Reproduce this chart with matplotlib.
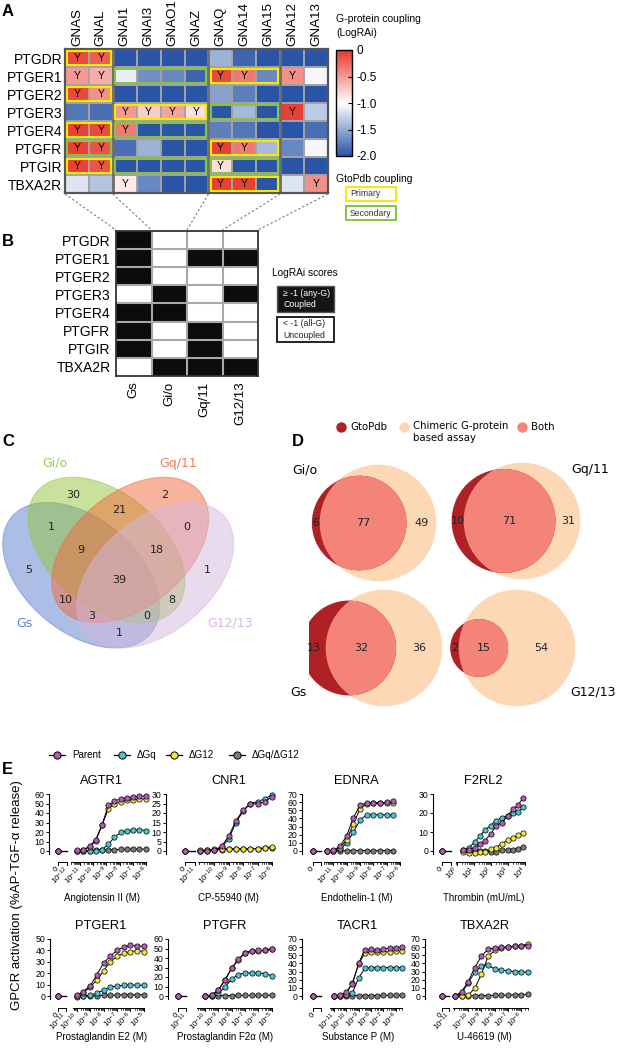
import numpy as np
import matplotlib
matplotlib.use("Agg")
import matplotlib.pyplot as plt
from matplotlib.colors import LinearSegmentedColormap, ListedColormap
from matplotlib.patches import Rectangle, Ellipse, Circle

plt.rcParams["font.family"] = ["Liberation Sans", "DejaVu Sans"]
plt.rcParams["mathtext.default"] = "regular"

W, H = 618, 1050

# ---------------- panel A / B data ----------------
receptors = ["PTGDR", "PTGER1", "PTGER2", "PTGER3", "PTGER4", "PTGFR", "PTGIR", "TBXA2R"]
gproteins = ["GNAS", "GNAL", "GNAI1", "GNAI3", "GNAO1", "GNAZ", "GNAQ", "GNA14", "GNA15", "GNA12", "GNA13"]
lograi = [
    # GNAS  GNAL  GNAI1  GNAI3  GNAO1  GNAZ   GNAQ   GNA14  GNA15  GNA12  GNA13
    [-0.10, -0.20, -2.00, -2.00, -2.00, -2.00, -1.45, -1.90, -2.00, -2.00, -2.00],  # PTGDR
    [-0.50, -0.60, -1.10, -1.65, -1.70, -1.90, -0.10, -0.35, -1.70, -0.45, -1.05],  # PTGER1
    [-0.10, -0.45, -2.00, -2.00, -2.00, -2.00, -1.55, -1.75, -2.00, -2.00, -2.00],  # PTGER2
    [-1.80, -1.85, -0.50, -0.75, -0.55, -0.85, -2.00, -1.40, -2.00, -0.05, -1.30],  # PTGER3
    [-0.05, -0.10, -0.35, -2.00, -2.00, -2.00, -1.75, -1.80, -2.00, -2.00, -1.85],  # PTGER4
    [-0.05, -0.15, -1.85, -1.45, -2.00, -2.00, -0.05, -0.35, -1.40, -1.70, -1.05],  # PTGFR
    [-0.05, -0.15, -2.00, -2.00, -2.00, -2.00, -0.85, -2.00, -2.00, -2.00, -2.00],  # PTGIR
    [-1.15, -1.35, -0.90, -1.70, -2.00, -2.00, -0.05, -0.05, -2.00, -1.15, -0.45],  # TBXA2R
]
families = ["Gs", "Gi/o", "Gq/11", "G12/13"]
family_cols = [(0, 1), (2, 5), (6, 8), (9, 10)]
# (receptor index, family index)
gto_primary = [(0, 0), (1, 2), (2, 0), (3, 1), (4, 0), (5, 2), (6, 0), (7, 2)]
gto_secondary = [(1, 1), (3, 2), (4, 1), (5, 0), (6, 1), (6, 2)]

# ---------------- panel C data ----------------
venn_names = ["Gs", "Gi/o", "Gq/11", "G12/13"]
venn_regions = ["1000", "0100", "0010", "0001", "1100", "0110", "0011", "1010",
                "0101", "1001", "1110", "0111", "1011", "1101", "1111"]
venn_counts = [5, 30, 2, 1, 1, 21, 0, 10, 8, 1, 9, 18, 3, 0, 39]

# ---------------- panel D data ----------------
d_names = ["Gi/o", "Gq/11", "Gs", "G12/13"]
d_gto_only = [6, 10, 13, 2]
d_both = [77, 71, 32, 15]
d_assay_only = [49, 31, 36, 54]

# ---------------- panel E data ----------------
e_names = ["AGTR1", "CNR1", "EDNRA", "F2RL2", "PTGER1", "PTGFR", "TACR1", "TBXA2R"]
e_ligands = ["Angiotensin II (M)", "CP-55940 (M)", "Endothelin-1 (M)", "Thrombin (mU/mL)",
             "Prostaglandin E2 (M)", "Prostaglandin F2α (M)", "Substance P (M)", "U-46619 (M)"]
e_ymax = [60, 30, 70, 30, 50, 60, 70, 70]
e_ystep = [10, 5, 10, 10, 10, 10, 10, 10]
e_logdose = [
    [-11.25, -10.77, -10.30, -9.82, -9.34, -8.86, -8.39, -7.91, -7.43, -6.95, -6.48, -6.0],
    [-11.0, -10.5, -10.0, -9.5, -9.0, -8.5, -8.0, -7.5, -7.0, -6.5, -6.0],
    [-11.5, -11.0, -10.5, -10.0, -9.5, -9.0, -8.5, -8.0, -7.5, -7.0, -6.5],
    [0.4, 0.7, 1.05, 1.35, 1.65, 2.0, 2.3, 2.65, 3.0, 3.3, 3.6, 3.9],
    [-10.0, -9.5, -9.0, -8.5, -8.0, -7.5, -7.0, -6.5, -6.0, -5.5, -5.0],
    [-10.0, -9.5, -9.0, -8.5, -8.0, -7.5, -7.0, -6.5, -6.0, -5.5, -5.0],
    [-11.0, -10.5, -10.0, -9.5, -9.0, -8.5, -8.0, -7.5, -7.0, -6.5, -6.0, -5.5],
    [-11.0, -10.5, -10.0, -9.5, -9.0, -8.5, -8.0, -7.5, -7.0, -6.5, -6.0, -5.5],
]
e_parent = [
    [0.7, 1.4, 4.9, 11.9, 27.7, 48.1, 52.3, 55.1, 56.1, 56.8, 57.5, 57.9],
    [0.0, 0.0, 0.5, 2.5, 7.8, 16.0, 21.5, 25.0, 24.7, 26.0, 28.5],
    [0.0, 0.8, 6.0, 18.8, 41.0, 56.0, 59.5, 59.5, 59.5, 60.0, 61.0],
    [0.4, 0.7, 1.8, 3.6, 5.4, 9.0, 13.0, 15.0, 18.6, 22.0, 24.0, 28.0],
    [0.6, 3.8, 8.8, 18.5, 28.8, 35.0, 40.0, 43.0, 44.4, 44.0, 43.5],
    [0.0, 1.0, 6.4, 17.0, 29.6, 38.6, 45.7, 47.5, 48.0, 48.0, 50.0],
    [0.0, 0.8, 5.0, 15.0, 40.0, 57.0, 57.6, 56.0, 58.0, 58.8, 59.0, 60.0],
    [0.0, 5.3, 17.7, 35.0, 49.0, 57.6, 59.0, 60.0, 60.0, 61.0, 61.0, 62.0],
]
e_dgq = [
    [0.0, 0.0, 0.2, 0.5, 1.5, 7.0, 14.5, 19.5, 21.5, 22.0, 22.5, 21.5],
    [0.0, 0.0, 0.3, 2.0, 6.5, 15.0, 21.0, 25.0, 26.0, 27.5, 29.5],
    [0.0, 0.3, 2.0, 10.0, 23.0, 38.0, 44.5, 44.5, 44.5, 44.5, 44.0],
    [0.5, 1.8, 4.5, 7.7, 11.0, 13.4, 16.0, 17.5, 18.6, 20.0, 20.5, 23.0],
    [-0.5, 0.0, 0.9, 2.3, 5.3, 8.0, 8.8, 9.4, 9.7, 9.5, 9.3],
    [-0.5, 0.0, 2.8, 9.3, 17.9, 22.5, 24.3, 24.3, 24.0, 23.5, 21.4],
    [0.0, 0.3, 1.5, 4.0, 22.0, 34.0, 35.0, 35.0, 35.0, 35.0, 35.0, 35.0],
    [0.0, 3.0, 16.5, 29.0, 37.0, 38.0, 33.0, 32.0, 31.0, 30.0, 30.0, 29.0],
]
e_dg12 = [
    [0.5, 1.0, 4.0, 11.0, 27.0, 44.5, 49.5, 52.0, 53.5, 54.0, 54.5, 55.0],
    [0.3, 0.5, 0.8, 1.0, 1.2, 1.2, 1.0, 1.2, 1.3, 1.6, 2.2],
    [0.0, 0.5, 4.0, 14.0, 33.0, 52.0, 58.0, 58.5, 58.5, 59.0, 59.0],
    [-0.4, -0.9, -0.9, -0.5, -0.4, 0.9, 1.8, 3.9, 5.7, 7.0, 8.4, 9.3],
    [0.0, 3.0, 7.6, 14.0, 22.0, 30.0, 34.7, 37.6, 39.0, 39.7, 39.0],
    [0.0, 0.8, 6.0, 16.5, 29.0, 38.0, 45.0, 47.0, 47.5, 48.0, 49.0],
    [0.0, 0.5, 3.0, 16.0, 39.0, 53.0, 54.0, 53.5, 54.0, 54.5, 55.0, 55.0],
    [0.0, 0.0, 1.0, 9.5, 27.0, 49.0, 56.0, 59.0, 60.0, 61.0, 62.0, 64.0],
]
e_dgqg12 = [
    [0.5, 0.5, 0.5, 1.0, 1.2, 1.5, 1.5, 1.6, 1.8, 2.0, 2.0, 2.0],
    [0.2, 0.3, 0.5, 0.7, 0.8, 0.9, 1.0, 1.1, 1.2, 1.4, 1.8],
    [0.3, 0.3, 0.4, 0.4, 0.5, 0.5, 0.5, 0.5, 0.6, 0.6, 0.6],
    [0.0, 0.0, 0.0, 0.0, -0.2, -0.3, -0.3, 0.4, 0.5, 0.7, 1.2, 2.1],
    [0.0, 0.0, 0.0, 0.3, 0.5, 0.7, 0.9, 1.0, 1.0, 1.0, 1.2],
    [0.3, 0.3, 0.4, 0.5, 0.5, 0.6, 0.6, 0.7, 0.8, 0.9, 1.0],
    [0.3, 0.3, 0.4, 0.5, 0.5, 0.6, 0.6, 0.6, 0.7, 0.7, 0.8, 0.9],
    [0.2, 0.3, 0.3, 0.4, 0.5, 0.6, 0.8, 1.0, 1.2, 1.5, 1.8, 2.0],
]
series_labels = ["Parent", "ΔGq", "ΔG12", "ΔGq/ΔG12"]
series_colors = ["#b55cb9", "#4ec5d1", "#f2ea3a", "#7c7c7c"]

# axis layout for panel E (pixels and log-dose units)
e_left = [49, 166, 302, 433, 50, 168, 302, 425]
e_right = [150, 276, 403, 528, 148, 275, 404, 532]
e_row = [0, 0, 0, 0, 1, 1, 1, 1]
e_xlim = [(-13.4, -5.67), (-13.36, -5.72), (-13.36, -5.77), (-1.39, 4.19),
          (-11.97, -4.7), (-12.77, -4.75), (-13.58, -5.33), (-13.25, -5.2)]
e_zero = [-12.7, -12.04, -12.53, -0.86, -11.36, -12.0, -12.65, -12.0]
e_seg1_end = [-12.0, -11.35, -11.95, -0.35, -10.8, -11.4, -12.05, -11.45]
e_seg1_label = ["$10^{-12}$", "$10^{-11}$", "", "", "$10^{-11}$", "$10^{-11}$", "", "$10^{-11}$"]
e_seg2 = [(-11.7, -6), (-11.15, -6), (-11.7, -6), (-0.05, 4), (-10.3, -5), (-10.6, -5),
          (-11.3, -5.5), (-11.15, -5.5)]
e_majors = [range(-11, -5), range(-10, -5), range(-11, -5), range(0, 5), range(-10, -4),
            range(-10, -4), range(-11, -5), range(-10, -5)]


def frect(l, t, r, b):
    return [l / W, 1 - b / H, (r - l) / W, (b - t) / H]


fig = plt.figure(figsize=(W / 100, H / 100), dpi=100)
ov = fig.add_axes([0, 0, 1, 1], zorder=20)
ov.set_xlim(0, W)
ov.set_ylim(H, 0)
ov.axis("off")

# ================= panel A =================
cmap = LinearSegmentedColormap.from_list("lograi", ["#2a55a6", "#ffffff", "#e8372b"])
A_L, A_T, A_R, A_B = 65, 49, 328, 193
axA = fig.add_axes(frect(A_L, A_T, A_R, A_B))
vals = np.array(lograi)
nr, nc = vals.shape
im = axA.imshow(vals, cmap=cmap, vmin=-2, vmax=0, aspect="auto", interpolation="nearest")
for k in range(1, nr):
    axA.axhline(k - 0.5, color="#a3a3a3", lw=1.4)
for k in range(1, nc):
    axA.axvline(k - 0.5, color="#a3a3a3", lw=1.4)
for c0, c1 in family_cols[1:]:
    axA.axvline(c0 - 0.5, color="#6e6e6e", lw=2.0)
for s in axA.spines.values():
    s.set_color("#555555")
    s.set_linewidth(1.6)
axA.xaxis.tick_top()
axA.set_xticks(range(nc), gproteins, rotation=90, fontsize=9.6)
axA.set_yticks(range(nr), receptors, fontsize=10)
axA.tick_params(length=0, pad=2)
for i in range(nr):
    for j in range(nc):
        if vals[i, j] > -1:
            axA.text(j, i, "Y", ha="center", va="center", fontsize=7.5)


def gto_box(r, fam, color):
    c0, c1 = family_cols[fam]
    axA.add_patch(Rectangle((c0 - 0.5 + 0.09, r - 0.5 + 0.12), c1 - c0 + 1 - 0.18, 0.76,
                            fill=False, ec=color, lw=1.5, zorder=5))


for r, f in gto_primary:
    gto_box(r, f, "#f3ec00")
for r, f in gto_secondary:
    gto_box(r, f, "#86c440")

cax = fig.add_axes(frect(336, 50, 352, 156))
cb = fig.colorbar(im, cax=cax, ticks=[0, -0.5, -1, -1.5, -2])
cb.ax.set_yticklabels(["0", "-0.5", "-1.0", "-1.5", "-2.0"])
cb.ax.tick_params(labelsize=8.5, length=3, width=0.8, direction="in", pad=3)
cb.outline.set_linewidth(1.0)
ov.text(336, 14, "G-protein coupling\n(LogRAi)", fontsize=7.5, va="top", ha="left", linespacing=1.5)
ov.text(336, 179, "GtoPdb coupling", fontsize=7.5, va="center", ha="left")
ov.add_patch(Rectangle((346, 187), 50, 14, fill=False, ec="#f3ec00", lw=1.4))
ov.text(350, 194, "Primary", fontsize=6.2, va="center", ha="left", color="#333333")
ov.add_patch(Rectangle((346, 206), 50, 14, fill=False, ec="#86c440", lw=1.4))
ov.text(350, 213, "Secondary", fontsize=6.2, va="center", ha="left", color="#333333")

# ================= panel B =================
B_L, B_T, B_R, B_B = 116, 231, 258, 376
axB = fig.add_axes(frect(B_L, B_T, B_R, B_B))
coupled = np.array([[float((vals[i, c0:c1 + 1] > -1).any()) for c0, c1 in family_cols]
                    for i in range(nr)])
axB.imshow(coupled, cmap=ListedColormap(["white", "#0b0b0b"]), vmin=0, vmax=1,
           aspect="auto", interpolation="nearest")
for k in range(1, nr):
    axB.axhline(k - 0.5, color="#a8a8a8", lw=1.5)
for k in range(1, len(families)):
    axB.axvline(k - 0.5, color="#a8a8a8", lw=1.5)
for s in axB.spines.values():
    s.set_color("#333333")
    s.set_linewidth(1.3)
axB.set_xticks(range(len(families)), families, rotation=90, fontsize=9.5)
axB.set_yticks(range(nr), receptors, fontsize=10)
axB.tick_params(length=0, pad=4)

ov.text(272, 273, "LogRAi scores", fontsize=7.3, va="center", ha="left")
ov.add_patch(Rectangle((277, 286), 57, 26, fc="#151515", ec="#555555", lw=1.0))
ov.text(283, 299, "≥ -1 (any-G)\nCoupled", fontsize=6.3, va="center", ha="left",
        color="white", linespacing=1.3)
ov.add_patch(Rectangle((277, 317), 57, 25, fc="white", ec="#222222", lw=1.4))
ov.text(283, 329.5, "< -1 (all-G)\nUncoupled", fontsize=6.3, va="center", ha="left",
        color="#222222", linespacing=1.3)

# dotted lines linking family groups of A to columns of B
cw = (A_R - A_L) / nc
a_edges = [A_L + c0 * cw for c0, _ in family_cols] + [A_R]
b_edges = [B_L + k * (B_R - B_L) / len(families) for k in range(len(families) + 1)]
for xa, xb in zip(a_edges, b_edges):
    ov.plot([xa, xb], [A_B + 1, B_T - 1], ls=(0, (2, 2)), color="#7a7a7a", lw=0.8)

# ================= panel C =================
axC = fig.add_axes(frect(-7, 424, 245, 676))
axC.set_xlim(0, 1)
axC.set_ylim(0, 1)
axC.axis("off")
venn_fill = ["#5a7fcf", "#94c43a", "#f2693b", "#d5b6dc"]
venn_text = ["#5b80d0", "#9acb4c", "#f27b55", "#d8b6de"]
ell = [(0.350, 0.400, 140), (0.450, 0.500, 140), (0.544, 0.500, 40), (0.644, 0.400, 40)]
for (ex, ey, ang), col in zip(ell, venn_fill):
    axC.add_patch(Ellipse((ex, ey), 0.72, 0.45, angle=ang, fc=col, ec=col, lw=0.8, alpha=0.5))
region_xy = {"0001": (0.85, 0.42), "0010": (0.68, 0.72), "0011": (0.77, 0.59),
             "0100": (0.32, 0.72), "0101": (0.71, 0.30), "0110": (0.50, 0.66),
             "0111": (0.65, 0.50), "1000": (0.14, 0.42), "1001": (0.50, 0.17),
             "1010": (0.29, 0.30), "1011": (0.39, 0.24), "1100": (0.23, 0.59),
             "1101": (0.61, 0.24), "1110": (0.35, 0.50), "1111": (0.50, 0.38)}
for reg, cnt in zip(venn_regions, venn_counts):
    tx, ty = region_xy[reg]
    axC.text(tx, ty, str(cnt), ha="center", va="center", fontsize=8,
             family="DejaVu Sans", color="#222222")
name_xy = [(0.123, 0.21), (0.246, 0.845), (0.734, 0.845), (0.94, 0.21)]
for nm, (tx, ty), col in zip(venn_names, name_xy, venn_text):
    axC.text(tx, ty, nm, ha="center", va="center", fontsize=9, family="DejaVu Sans", color=col)

# ================= panel D =================
c_gto, c_assay, c_both = "#b02126", "#fdd8b6", "#f4837a"


def lens_area(r1, r2, d):
    if d >= r1 + r2:
        return 0.0
    if d <= abs(r1 - r2):
        return np.pi * min(r1, r2) ** 2
    a1 = r1 ** 2 * np.arccos((d * d + r1 * r1 - r2 * r2) / (2 * d * r1))
    a2 = r2 ** 2 * np.arccos((d * d + r2 * r2 - r1 * r1) / (2 * d * r2))
    a3 = 0.5 * np.sqrt((-d + r1 + r2) * (d + r1 - r2) * (d - r1 + r2) * (d + r1 + r2))
    return a1 + a2 - a3


def solve_dist(r1, r2, target):
    lo, hi = abs(r1 - r2), r1 + r2
    for _ in range(60):
        mid = 0.5 * (lo + hi)
        if lens_area(r1, r2, mid) > target:
            lo = mid
        else:
            hi = mid
    return 0.5 * (lo + hi)


d_centers = [(378, 523), (522, 521), (384, 648), (517, 648)]
d_label_xy = [(292, 470), (571, 470), (290, 692), (570, 692)]
big_r_px = 58.3
for k in range(4):
    g, b, a = d_gto_only[k], d_both[k], d_assay_only[k]
    r1 = np.sqrt((g + b) / np.pi)
    r2 = np.sqrt((a + b) / np.pi)
    dist = solve_dist(r1, r2, b)
    s = big_r_px / r2
    cx, cy = d_centers[k]
    half = 75
    axd = fig.add_axes(frect(cx - half, cy - half, cx + half, cy + half))
    axd.set_xlim(-half / s, half / s)
    axd.set_ylim(-half / s, half / s)
    axd.axis("off")
    light = Circle((0, 0), r2, fc=c_assay, ec="none")
    axd.add_patch(light)
    axd.add_patch(Circle((-dist, 0), r1, fc=c_gto, ec="none"))
    lens = Circle((-dist, 0), r1, fc=c_both, ec="none")
    axd.add_patch(lens)
    lens.set_clip_path(light)
    xs = [((-dist - r1) + (-r2)) / 2, ((-r2) + (-dist + r1)) / 2, ((-dist + r1) + r2) / 2]
    for xv, cnt in zip(xs, [g, b, a]):
        axd.text(xv, 0, str(cnt), ha="center", va="center", fontsize=8,
                 family="DejaVu Sans", color="#222222")
    lx, ly = d_label_xy[k]
    ov.text(lx, ly, d_names[k], ha="left", va="center", fontsize=9, family="DejaVu Sans")

for (lx, txt), col in zip([(341, "GtoPdb"), (404, "Chimeric G-protein\nbased assay"), (522, "Both")],
                          [c_gto, c_assay, c_both]):
    ov.plot(lx, 427, "o", ms=7.5, mfc=col, mec="none")
    ov.text(lx + 9, 427, txt, ha="left", va="top" if "\n" in txt else "center",
            fontsize=7.3, family="DejaVu Sans", linespacing=1.3)
ov.texts[-2].set_y(421)

# ================= panel E =================
row_top = [794, 939]
row_zero = [851, 996]
row_bot = [862, 1008]
row_xlab = [898, 1037]
tick_px = 3.0

for k in range(8):
    rw = e_row[k]
    top, zero, bot = row_top[rw], row_zero[rw], row_bot[rw]
    ax = fig.add_axes(frect(e_left[k], top, e_right[k], bot))
    ax.patch.set_alpha(0)
    ymax = e_ymax[k]
    ax.set_xlim(*e_xlim[k])
    ax.set_ylim(-ymax * (bot - zero) / (zero - top), ymax)
    for sp in ["top", "right", "bottom"]:
        ax.spines[sp].set_visible(False)
    ax.spines["left"].set_bounds(-0.06 * ymax, ymax)
    ax.spines["left"].set_linewidth(0.8)
    ax.set_yticks(np.arange(0, ymax + 1, e_ystep[k]))
    ax.tick_params(axis="y", length=2.5, width=0.7, labelsize=6.3, pad=1)

    x0 = e_zero[k]
    doses = e_logdose[k]
    order = [(e_dgqg12[k], 3), (e_dgq[k], 1), (e_dg12[k], 2), (e_parent[k], 0)]
    for z, (yv, ci) in enumerate(order):
        ax.plot(doses, yv, "-", color="black", lw=0.7, zorder=3 + z)
        ax.plot(doses, yv, "o", ms=3.8, mfc=series_colors[ci], mec="black", mew=0.5,
                zorder=3 + z, clip_on=False)
        ax.plot(x0, 0, "o", ms=3.8, mfc=series_colors[ci], mec="black", mew=0.5,
                zorder=3 + z, clip_on=False)
    ax.plot([x0, e_seg1_end[k]], [0, 0], color="black", lw=1.0, zorder=2)

    # broken x axis drawn as two segments
    tr = ax.get_xaxis_transform()
    tl = tick_px / (bot - top)
    s1 = (x0, e_seg1_end[k])
    a2, b2 = e_seg2[k]
    ax.plot(s1, [0, 0], transform=tr, color="black", lw=0.7, clip_on=False)
    ax.plot([a2, b2], [0, 0], transform=tr, color="black", lw=0.7, clip_on=False)
    for xv in s1:
        ax.plot([xv, xv], [0, -tl], transform=tr, color="black", lw=0.7, clip_on=False)
    for m in e_majors[k]:
        ax.plot([m, m], [0, -tl], transform=tr, color="black", lw=0.7, clip_on=False)
    for dec in range(int(np.floor(a2)), int(np.ceil(b2)) + 1):
        for sub in range(2, 10):
            pm = dec + np.log10(sub)
            if a2 <= pm <= b2:
                ax.plot([pm, pm], [0, -tl * 0.55], transform=tr, color="black", lw=0.5,
                        clip_on=False)
    pos = [x0]
    labs = ["0"]
    if e_seg1_label[k]:
        pos.append(e_seg1_end[k])
        labs.append(e_seg1_label[k])
    pos += list(e_majors[k])
    labs += ["$10^{%d}$" % m for m in e_majors[k]]
    ax.set_xticks(pos, labs)
    ax.tick_params(axis="x", length=0, pad=4.5, labelsize=5.8)
    for lab in ax.get_xticklabels():
        lab.set_rotation(45)
        lab.set_ha("right")
        lab.set_va("center")
        lab.set_rotation_mode("anchor")

    mid = 0.5 * (x0 + b2)
    ax.text(mid, 1.0 + 7 / (bot - top), e_names[k], transform=tr, ha="center", va="bottom",
            fontsize=9.3)
    ax.text(mid, (bot - row_xlab[rw]) / (bot - top), e_ligands[k], transform=tr,
            ha="center", va="center", fontsize=7)

fig.text(17 / W, 1 - 895 / H, "GPCR activation (%AP-TGF-α release)", rotation=90,
         ha="center", va="center", fontsize=9.5)

for xm, lab, col in zip([57, 122, 174, 237], series_labels, series_colors):
    ov.plot([xm - 8, xm + 8], [755, 755], color="black", lw=0.9)
    ov.plot(xm, 755, "o", ms=5.2, mfc=col, mec="black", mew=0.7)
    ov.text(xm + 15, 755, lab, ha="left", va="center", fontsize=7.1)

# panel letters
for lt, (px, py) in zip("ABCDE", [(2, 11), (2, 241), (2, 442), (292, 442), (2, 769)]):
    ov.text(px, py, lt, fontsize=12, fontweight="bold", ha="left", va="center")

fig.savefig("out.png", dpi=100)
